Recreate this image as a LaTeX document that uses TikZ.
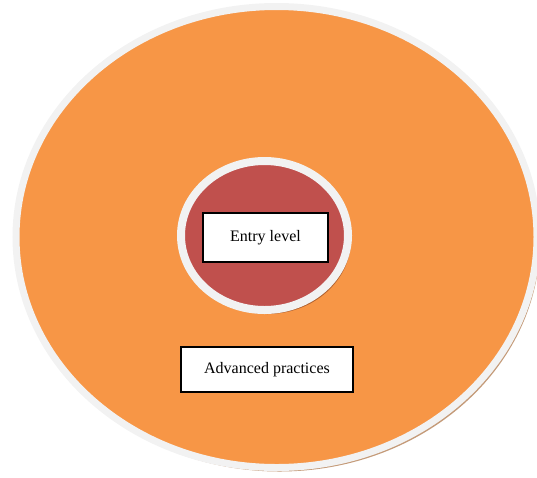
\documentclass[tikz,border=0pt]{standalone}
\usepackage{fontspec}
\setmainfont{Liberation Serif}
\usepackage{tikz}
\usetikzlibrary{shapes.geometric,shadows}
\definecolor{ringorange}{HTML}{F79646}
\definecolor{ringred}{HTML}{C0504D}
\definecolor{ringedge}{HTML}{F2F2F2}
\definecolor{outershade}{HTML}{C49A78}
\definecolor{innershade}{HTML}{B0602F}

\begin{document}
\begin{tikzpicture}[x=1pt,y=-1pt,
  ring/.style={ellipse,draw=ringedge,inner sep=0pt},
  label box/.style={rectangle,draw=black,line width=1.5pt,fill=white,inner sep=0pt,font=\fontsize{16}{19}\selectfont}]
\useasboundingbox (0,0) rectangle (537,477);
\node [ring,fill=ringorange,line width=7pt,minimum width=521pt,minimum height=461pt,
  drop shadow={shadow xshift=3pt,shadow yshift=-4pt,fill=outershade,opacity=1}] (outer) at (276.5,237) {};
\node [ring,fill=ringred,line width=8pt,minimum width=167pt,minimum height=149pt,
  drop shadow={shadow xshift=3pt,shadow yshift=-4pt,fill=innershade,opacity=1}] (inner) at (264.5,235.5) {};
\node [label box,minimum width=125pt,minimum height=49pt] (entry) at (265.5,237.5) {Entry level};
\node [label box,minimum width=172pt,minimum height=45pt] (advanced) at (267,369.5) {Advanced practices};
\end{tikzpicture}
\end{document}
